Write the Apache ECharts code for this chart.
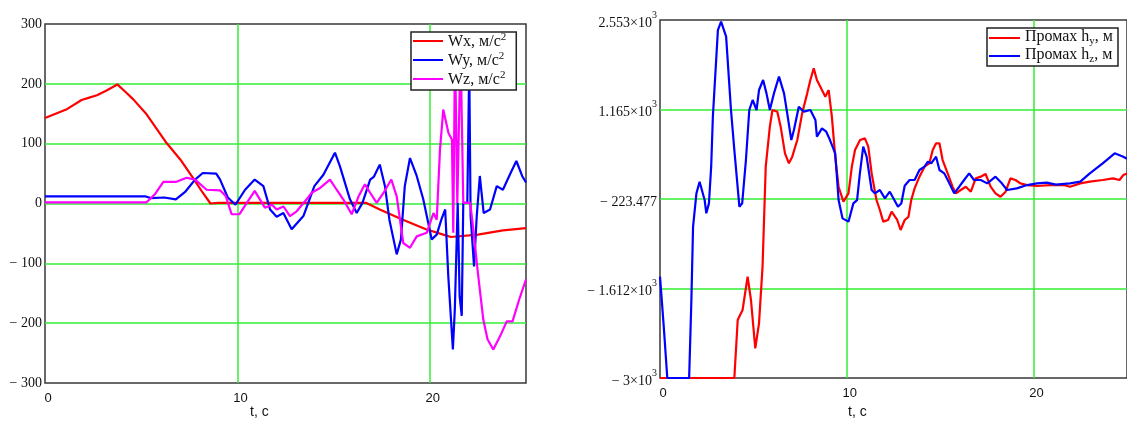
<!DOCTYPE html>
<html>
<head>
<meta charset="utf-8">
<script src="https://cdn.jsdelivr.net/npm/echarts@6/dist/echarts.min.js"></script>
<style>
  html, body { margin: 0; padding: 0; background: #fff; }
  #chart { width: 1127px; height: 421px; }
</style>
</head>
<body>
<div id="chart"></div>
<script>
// left plot: accelerations, [t, value]
const wxData = [[0,143],[1.1,157],[1.9,173],[2.3,177],[2.7,181],[3.2,189],[3.76,199],[4.2,186],[4.59,174],[5.28,149],[6.32,101],[7.02,74],[7.71,42],[8.2,18],[8.6,0],[9,1],[12.7,1],[16.7,1],[17.4,-10],[18.6,-27],[19.8,-43],[20.7,-52],[21.1,-56],[22.5,-52],[23.8,-45],[25,-41]];
const wyData = [[0,12],[5.2,12],[5.5,9],[6.2,10],[6.8,7],[7.3,20],[7.8,40],[8.2,51],[8.9,50],[9.1,40],[9.5,10],[9.9,-2],[10.4,23],[10.9,40],[11.35,29],[11.7,-10],[12.04,-22],[12.39,-16],[12.82,-43],[13.43,-21],[14.0,29],[14.47,48],[15.07,85],[15.33,62],[15.85,7],[16.2,-16],[16.5,1],[16.9,40],[17.1,45],[17.4,65],[17.67,29],[17.9,-27],[18.28,-85],[18.5,-60],[18.7,29],[18.97,76],[19.32,46],[19.66,7],[20.1,-60],[20.36,-52],[20.6,-27],[20.8,-10],[20.96,-121],[21.2,-244],[21.3,-177],[21.45,1],[21.55,-155],[21.66,-188],[21.74,1],[21.95,1],[22.05,230],[22.12,-20],[22.3,-105],[22.44,-21],[22.6,46],[22.8,-16],[23.13,-10],[23.48,29],[23.8,23],[24.2,51],[24.5,71],[24.8,46],[25,35]];
const wzData = [[0,2],[5.28,2],[5.7,15],[6.15,36],[6.8,36],[7.36,43],[7.8,40],[8.4,23],[9.1,22],[9.4,12],[9.7,-18],[10.1,-18],[10.9,21],[11.43,-7],[11.8,-2],[12.04,-10],[12.4,-5],[12.73,-21],[13.08,-13],[13.6,7],[13.86,18],[14.3,26],[14.81,40],[15.16,23],[15.5,7],[15.94,-18],[16.3,12],[16.63,32],[16.9,18],[17.24,1],[17.6,18],[18.0,40],[18.28,12],[18.62,-66],[18.97,-74],[19.32,-55],[19.84,-49],[20.19,-16],[20.36,-27],[20.53,90],[20.7,157],[20.97,118],[21.15,107],[21.22,-49],[21.31,260],[21.43,1],[21.6,260],[21.74,1],[22.1,1],[22.26,-43],[22.5,-116],[22.78,-194],[23.0,-227],[23.3,-244],[23.65,-222],[24.0,-197],[24.3,-197],[24.65,-160],[25,-127]];

// right plot: miss distances, [t, value]
const hyData = [[0,-3000],[3.98,-3000],[4.16,-2100],[4.42,-1945],[4.69,-1428],[4.87,-1790],[5.1,-2540],[5.3,-2152],[5.49,-1273],[5.66,278],[5.88,898],[6.02,1157],[6.28,1131],[6.46,898],[6.69,485],[6.9,330],[7.08,433],[7.35,691],[7.61,1105],[7.88,1415],[8.05,1622],[8.23,1803],[8.4,1622],[8.67,1467],[8.85,1364],[9.03,1467],[9.2,1053],[9.38,433],[9.56,-33],[9.82,-265],[10.09,-136],[10.27,278],[10.44,536],[10.71,691],[10.97,717],[11.15,588],[11.33,174],[11.59,-239],[11.77,-394],[11.95,-575],[12.21,-549],[12.4,-420],[12.7,-549],[12.88,-704],[13.1,-549],[13.3,-500],[13.45,-239],[13.63,-58],[13.89,123],[14.16,278],[14.42,330],[14.6,536],[14.78,640],[14.96,640],[15.13,381],[15.4,174],[15.66,-33],[15.84,-136],[16.1,-84],[16.37,-33],[16.64,-110],[16.9,97],[17.17,123],[17.43,164],[17.7,-33],[17.96,-136],[18.23,-188],[18.5,-110],[18.76,97],[19.03,71],[19.29,19],[19.65,-7],[20.18,-22],[20.88,-7],[21.6,-7],[21.95,-33],[22.5,19],[23.01,45],[23.7,71],[24.25,97],[24.6,71],[24.8,148],[25,170]];
const hzData = [[0,-1428],[0.2,-2200],[0.39,-3000],[1.56,-3000],[1.68,-1790],[1.77,-653],[1.95,-136],[2.12,45],[2.21,71],[2.39,-239],[2.48,-446],[2.62,-291],[2.74,278],[2.83,1053],[3.1,2397],[3.27,2527],[3.54,2294],[3.8,1157],[3.98,536],[4.25,-343],[4.4,-290],[4.6,381],[4.78,1157],[4.96,1312],[5.17,1157],[5.3,1467],[5.52,1622],[5.7,1415],[5.88,1157],[6.1,1415],[6.37,1674],[6.64,1415],[6.81,1105],[7.03,691],[7.17,846],[7.43,1208],[7.7,1131],[8.05,1157],[8.32,1002],[8.4,743],[8.67,872],[8.9,820],[9.1,691],[9.38,485],[9.56,-239],[9.77,-524],[10.09,-575],[10.35,-291],[10.55,-240],[10.7,174],[10.88,588],[11.06,433],[11.33,-84],[11.5,-136],[11.77,-84],[12.04,-213],[12.3,-110],[12.45,-190],[12.74,-343],[12.92,-290],[13.1,-19],[13.36,71],[13.63,71],[13.89,226],[14.16,278],[14.34,355],[14.52,330],[14.78,433],[14.96,226],[15.22,174],[15.49,19],[15.75,-136],[16.02,-33],[16.28,71],[16.55,174],[16.81,71],[17.17,71],[17.52,19],[17.96,123],[18.3,19],[18.58,-84],[19.1,-58],[19.65,-7],[20.18,19],[20.7,30],[21.2,0],[21.95,19],[22.5,45],[23.01,174],[23.7,330],[24.34,485],[24.8,433],[25,400]];

// axis ranges and tick labels
const tMin = 0, tMax = 25, tStep = 10;
const leftYMin = -300, leftYMax = 300, leftYStep = 100;
const rightYMin = -3000, rightYMax = 2553, rightYStep = 1388.25;
const rightTickLabels = ['{m|− 3×10}{s|3}', '{m|− 1.612×10}{s|3}', '{m|− 223.477}', '{m|1.165×10}{s|3}', '{m|2.553×10}{s|3}'];

const legendLabels = {
  'Wx': '{b|Wx, м/с}{sup|2}',
  'Wy': '{b|Wy, м/с}{sup|2}',
  'Wz': '{b|Wz, м/с}{sup|2}',
  'hy': '{t|Промах h}{sub|y}{t|, м}',
  'hz': '{t|Промах h}{sub|z}{t|, м}'
};

const GREEN = '#33ee33';
const serif = 'Liberation Serif';
const sans = 'Liberation Sans';

// b: main text sitting low (superscript after it), t: main text sitting high (subscript after it)
const legendRich = {
  b: { fontFamily: serif, fontSize: 16, color: '#111', lineHeight: 18, verticalAlign: 'bottom' },
  t: { fontFamily: serif, fontSize: 16, color: '#111', lineHeight: 18, verticalAlign: 'top' },
  sup: { fontFamily: serif, fontSize: 11, color: '#111', lineHeight: 10, verticalAlign: 'top' },
  sub: { fontFamily: serif, fontSize: 11, color: '#111', lineHeight: 10, verticalAlign: 'bottom' }
};

const gridLine = { show: true, showMinLine: false, showMaxLine: false, lineStyle: { color: GREEN, width: 1.5 } };

const xAxisBase = {
  type: 'value', min: tMin, max: tMax, interval: tStep,
  axisLine: { show: false }, axisTick: { show: false },
  axisLabel: { fontFamily: sans, fontSize: 13, color: '#111', margin: 9, padding: [0, 0, 0, 6], showMaxLabel: false },
  splitLine: gridLine
};

const line = (name, data, color, xi) => ({
  name, type: 'line', data, xAxisIndex: xi, yAxisIndex: xi,
  showSymbol: false, symbol: 'none',
  lineStyle: { color, width: 2.2 }, itemStyle: { color },
  emphasis: { disabled: true }
});

const chart = echarts.init(document.getElementById('chart'));
chart.setOption({
  animation: false,
  backgroundColor: '#fff',
  grid: [
    { left: 45, top: 24, width: 481, height: 359, show: true, borderColor: '#383838', borderWidth: 1.5, backgroundColor: 'transparent' },
    { left: 660, top: 20, width: 471, height: 358, show: true, borderColor: '#383838', borderWidth: 1.5, backgroundColor: 'transparent' }
  ],
  xAxis: [
    Object.assign({ gridIndex: 0 }, xAxisBase),
    Object.assign({ gridIndex: 1 }, xAxisBase)
  ],
  yAxis: [
    {
      gridIndex: 0, type: 'value', min: leftYMin, max: leftYMax, interval: leftYStep,
      axisLine: { show: false }, axisTick: { show: false },
      axisLabel: {
        fontFamily: serif, fontSize: 14, color: '#111', margin: 3,
        showMinLabel: true, showMaxLabel: true,
        formatter: v => v < 0 ? '− ' + Math.abs(v) : String(v)
      },
      splitLine: gridLine
    },
    {
      gridIndex: 1, type: 'value', min: rightYMin, max: rightYMax, interval: rightYStep,
      axisLine: { show: false }, axisTick: { show: false },
      axisLabel: {
        color: '#111', margin: 3,
        showMinLabel: true, showMaxLabel: true,
        formatter: v => rightTickLabels[Math.round((v - rightYMin) / rightYStep)] || '',
        rich: {
          m: { fontFamily: serif, fontSize: 14, color: '#111', lineHeight: 20, verticalAlign: 'bottom' },
          s: { fontFamily: serif, fontSize: 10, color: '#111', lineHeight: 10, verticalAlign: 'top' }
        }
      },
      splitLine: gridLine
    }
  ],
  legend: [
    {
      data: ['Wx', 'Wy', 'Wz'], orient: 'vertical', left: 411, top: 32,
      padding: [0, 10, 2, 2], itemGap: 1, itemWidth: 30, itemHeight: 2, icon: 'rect',
      backgroundColor: '#fff', borderColor: '#222', borderWidth: 1.5, selectedMode: false,
      formatter: n => legendLabels[n], textStyle: { rich: legendRich }
    },
    {
      data: ['hy', 'hz'], orient: 'vertical', left: 987, top: 28,
      padding: [1, 5, 1, 2], itemGap: 0, itemWidth: 31, itemHeight: 2, icon: 'rect',
      backgroundColor: '#fff', borderColor: '#222', borderWidth: 1.5, selectedMode: false,
      formatter: n => legendLabels[n], textStyle: { rich: legendRich }
    }
  ],
  graphic: [
    { type: 'text', left: 250, top: 405, style: { text: 't, c', font: '14px "Liberation Sans"', fill: '#111' } },
    { type: 'text', left: 848, top: 405, style: { text: 't, c', font: '14px "Liberation Sans"', fill: '#111' } }
  ],
  series: [
    line('Wx', wxData, '#ff0000', 0),
    line('Wy', wyData, '#0000ff', 0),
    line('Wz', wzData, '#ff00ff', 0),
    line('hy', hyData, '#ff0000', 1),
    line('hz', hzData, '#0000ff', 1)
  ]
});
</script>
</body>
</html>
